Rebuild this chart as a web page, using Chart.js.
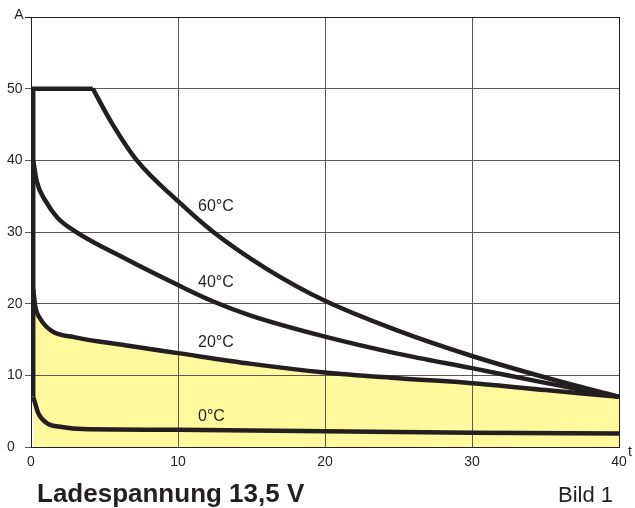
<!DOCTYPE html>
<html>
<head>
<meta charset="utf-8">
<script src="https://cdn.jsdelivr.net/npm/chart.js@4.4.1/dist/chart.umd.min.js"></script>
<style>
  html, body { margin: 0; padding: 0; background: #fff; }
  #chart { display: block; }
</style>
</head>
<body>
<canvas id="chart" width="635" height="508"></canvas>
<script>
// DATA (t in h, current in A)
const startLine = [[0.15, 7], [0.15, 50], [4.2, 50]];
const curve60 = [[4.2, 50], [5.5, 45.2], [7.2, 40], [10, 34.3], [12.4, 30], [16, 24.9], [20, 20.4], [25, 16.2], [30, 12.7], [35, 9.7], [40, 7]];
const curve40 = [[0.15, 40], [0.4, 37], [1, 34.3], [1.8, 32], [3, 30.1], [6.4, 26.3], [10, 22.6], [12.4, 20.3], [15, 18.3], [20, 15.4], [25, 13], [30, 11], [35, 8.95], [40, 7]];
const curve20 = [[0.15, 22], [0.3, 19.5], [0.6, 18], [1.4, 16.2], [3, 15.3], [6.4, 14.2], [10, 13.1], [15, 11.6], [20, 10.4], [25, 9.6], [30, 8.9], [35, 7.95], [40, 7]];
const curve0 = [[0.15, 7], [0.5, 4.7], [1.1, 3.3], [2.1, 2.8], [3.5, 2.5], [10, 2.4], [20, 2.2], [30, 2.0], [40, 1.9]];
const xTicks = [0, 10, 20, 30, 40];
const yTicks = [0, 10, 20, 30, 40, 50];
const curveLabels = [["60°C", 11.36, 33.5], ["40°C", 11.36, 23.0], ["20°C", 11.36, 14.6], ["0°C", 11.36, 4.2]];

const INK = "#231f20";
const GRID = "#5c5853";
const toPts = arr => arr.map(p => ({ x: p[0], y: p[1] }));

const lineStyle = {
  borderColor: INK,
  borderWidth: 4.5,
  pointRadius: 0,
  fill: false,
  cubicInterpolationMode: "monotone",
  borderCapStyle: "butt"
};

// texts that are not ticks
const textPlugin = {
  id: "texts",
  afterDraw(chart) {
    const c = chart.ctx;
    const xs = chart.scales.x, ys = chart.scales.y;
    c.save();
    c.fillStyle = INK;
    c.textBaseline = "middle";
    c.font = "14px 'Liberation Sans', Arial, sans-serif";
    c.textAlign = "center";
    c.fillText("A", 19, 15);
    c.fillText("t", 630, 452);
    c.font = "16px 'Liberation Sans', Arial, sans-serif";
    c.textAlign = "left";
    curveLabels.forEach(l => {
      c.fillText(l[0], xs.getPixelForValue(l[1]), ys.getPixelForValue(l[2]));
    });
    c.textBaseline = "alphabetic";
    c.font = "bold 26px 'Liberation Sans', Arial, sans-serif";
    c.fillText("Ladespannung 13,5 V", 37, 502);
    c.font = "22px 'Liberation Sans', Arial, sans-serif";
    c.textAlign = "right";
    c.fillText("Bild 1", 613, 502);
    c.restore();
  }
};

new Chart(document.getElementById("chart"), {
  type: "line",
  data: {
    datasets: [
      { ...lineStyle, label: "20°C", data: toPts(curve20), fill: "origin", backgroundColor: "#fff89c" },
      { ...lineStyle, label: "0°C", data: toPts(curve0) },
      { ...lineStyle, label: "40°C", data: toPts(curve40) },
      { ...lineStyle, label: "60°C", data: toPts(curve60) },
      { ...lineStyle, label: "start", data: toPts(startLine), tension: 0, cubicInterpolationMode: "default", borderJoinStyle: "miter" }
    ]
  },
  options: {
    responsive: false,
    animation: false,
    devicePixelRatio: 1,
    layout: { padding: { left: 7, top: 17, right: 16, bottom: 0 } },
    plugins: {
      legend: { display: false },
      tooltip: { enabled: false },
      filler: { drawTime: "beforeDraw" }
    },
    scales: {
      x: {
        type: "linear",
        min: 0,
        max: 40,
        afterBuildTicks: s => { s.ticks = xTicks.map(v => ({ value: v })); },
        afterFit: s => { s.height = 61; },
        ticks: { color: INK, font: { size: 14, family: "'Liberation Sans', Arial, sans-serif" }, padding: 7 },
        grid: { drawTicks: false, color: ctx => (ctx.tick && ctx.tick.value === 40 ? INK : GRID), lineWidth: 1 },
        border: { color: INK, width: 1 }
      },
      y: {
        min: 0,
        max: 60,
        afterBuildTicks: s => { s.ticks = yTicks.concat([60]).map(v => ({ value: v })); },
        afterFit: s => { s.width = 24; },
        ticks: {
          color: INK,
          font: { size: 14, family: "'Liberation Sans', Arial, sans-serif" },
          crossAlign: "far",
          padding: 1,
          callback: v => (v === 60 ? "" : v)
        },
        grid: { tickLength: 6, color: ctx => (ctx.tick && ctx.tick.value === 60 ? INK : GRID), lineWidth: 1 },
        border: { color: INK, width: 1 }
      }
    }
  },
  plugins: [textPlugin]
});
</script>
</body>
</html>
